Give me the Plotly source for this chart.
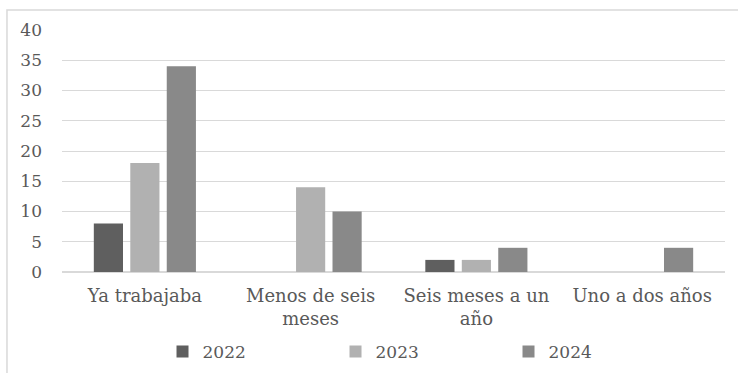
import plotly.graph_objects as go

# Tiempo hasta conseguir empleo, por año de egreso
categorias = ["Ya trabajaba", "Menos de seis<br>meses", "Seis meses a un<br>año", "Uno a dos años"]
serie_2022 = [8, 0, 2, 0]
serie_2023 = [18, 14, 2, 0]
serie_2024 = [34, 10, 4, 4]
nombres = ["2022", "2023", "2024"]
colores = ["#5f5f5f", "#b1b1b1", "#898989"]

FUENTE = "DejaVu Serif"
GRIS_TEXTO = "#595959"
GRIS_LINEA = "#d9d9d9"

fig = go.Figure()
for nombre, valores, color in zip(nombres, [serie_2022, serie_2023, serie_2024], colores):
    fig.add_trace(go.Bar(
        x=categorias, y=valores, name=nombre,
        marker=dict(color=color, line=dict(width=0)),
    ))

fig.update_layout(
    width=738, height=373,
    margin=dict(l=62, r=13, t=30, b=101, autoexpand=False),
    paper_bgcolor="white", plot_bgcolor="white",
    barmode="group", bargap=0.34, bargroupgap=0.2,
    font=dict(family=FUENTE, size=17, color=GRIS_TEXTO),
    showlegend=True,
    legend=dict(
        orientation="h", x=0.543, xanchor="center", y=-0.33, yanchor="middle",
        entrywidth=128, entrywidthmode="pixels",
        font=dict(family=FUENTE, size=17, color=GRIS_TEXTO),
        traceorder="normal",
    ),
    xaxis=dict(
        showgrid=False, showline=False, ticks="", automargin=False,
        ticklabelstandoff=11,
        tickfont=dict(family=FUENTE, size=18, color=GRIS_TEXTO),
    ),
    yaxis=dict(
        range=[0, 40], dtick=5, tick0=0, automargin=False,
        showgrid=True, gridcolor=GRIS_LINEA, gridwidth=1,
        zeroline=True, zerolinecolor=GRIS_LINEA, zerolinewidth=1.5,
        showline=False, ticks="", ticklabelstandoff=19,
        tickfont=dict(family=FUENTE, size=17, color=GRIS_TEXTO),
    ),
    shapes=[dict(
        type="rect", xref="paper", yref="paper",
        x0=-0.083, x1=1.2, y0=-0.6, y1=1.083,
        line=dict(color=GRIS_LINEA, width=1.5), fillcolor="rgba(0,0,0,0)",
        layer="below",
    )],
)

fig.write_html("out.html")
